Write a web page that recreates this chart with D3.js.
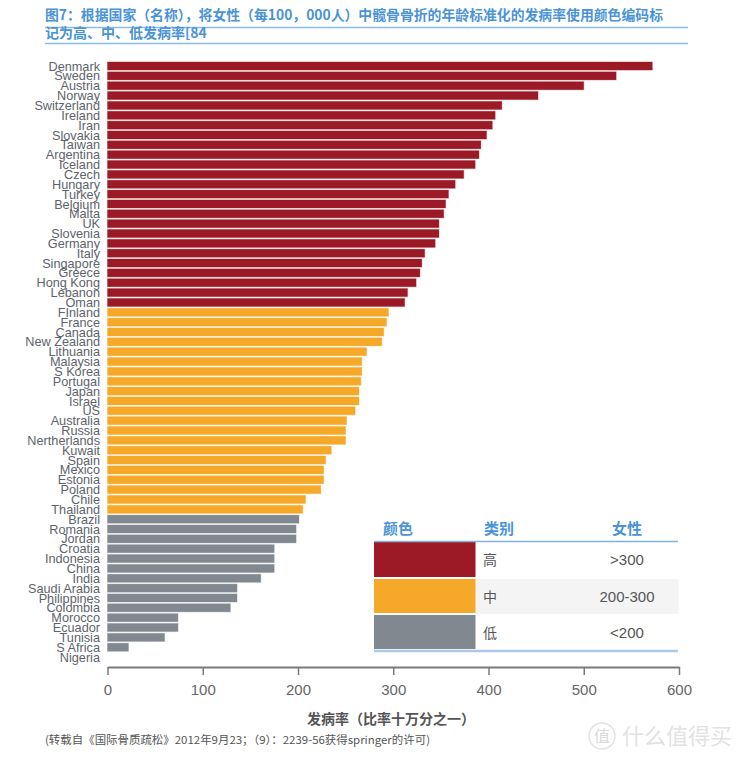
<!DOCTYPE html>
<html>
<head>
<meta charset="utf-8">
<script src="https://cdn.jsdelivr.net/npm/d3@7"></script>
<style>
  html, body { margin: 0; padding: 0; background: #fff; }
  svg { display: block; }
</style>
</head>
<body>
<svg id="chart" width="747" height="763"></svg>
<script>
// ---------------- DATA ----------------
const countries = ["Denmark","Sweden","Austria","Norway","Switzerland","Ireland","Iran","Slovakia","Taiwan","Argentina","Iceland","Czech","Hungary","Turkey","Belgium","Malta","UK","Slovenia","Germany","Italy","Singapore","Greece","Hong Kong","Lebanon","Oman",
  "FInland","France","Canada","New Zealand","Lithuania","Malaysia","S Korea","Portugal","Japan","Israel","US","Australia","Russia","Nertherlands","Kuwait","Spain","Mexico","Estonia","Poland","Chile","Thailand",
  "Brazil","Romania","Jordan","Croatia","Indonesia","China","India","Saudi Arabia","Philippines","Colombia","Morocco","Ecuador","Tunisia","S Africa","Nigeria"];
const rates = [572,534,500,452,414,407,404,398,392,390,386,374,365,358,355,353,348,348,344,333,330,328,324,315,312,
  295,293,290,288,272,267,267,266,264,264,260,251,250,250,235,229,227,227,224,208,205,
  201,198,198,175,175,175,161,136,136,129,74,74,60,22,0];
const groups = [].concat(Array(25).fill("high"), Array(21).fill("mid"), Array(15).fill("low"));
const groupKeys = ["high","mid","low"];
const groupColors = ["#9c1a25","#f6a828","#82888f"];
const legendHeaders = ["颜色","类别","女性"];
const legendCats = ["高","中","低"];
const legendRanges = [">300","200-300","<200"];
const xTicks = [0,100,200,300,400,500,600];
const titleLines = ["图7：根据国家（名称），将女性（每100，000人）中髋骨骨折的年龄标准化的发病率使用颜色编码标","记为高、中、低发病率[84"];
const xAxisTitle = "发病率（比率十万分之一）";
const footnote = "(转载自《国际骨质疏松》2012年9月23；（9）：2239-56获得springer的许可)";

// ---------------- CHART ----------------
const svg = d3.select("#chart");
const cjk = "'Noto Sans CJK SC','Noto Sans',sans-serif";
const latin = "'Liberation Sans',Arial,sans-serif";

// Title
svg.append("line").attr("x1",45).attr("x2",688).attr("y1",27.5).attr("y2",27.5)
  .attr("stroke","#8cbbe4").attr("stroke-width",1.5);
svg.append("line").attr("x1",45).attr("x2",688).attr("y1",43.5).attr("y2",43.5)
  .attr("stroke","#8cbbe4").attr("stroke-width",1.5);
svg.selectAll("text.title").data(titleLines).join("text")
  .attr("class","title")
  .attr("x",45).attr("y",(d,i)=>20+i*18)
  .attr("font-family",cjk).attr("font-weight","bold").attr("font-size",14)
  .attr("fill","#4a93d6")
  .each(function(d,i){ if(i===0){ d3.select(this).attr("textLength",618).attr("lengthAdjust","spacingAndGlyphs"); } })
  .text(d=>d);

const x = d3.scaleLinear().domain([0,600]).range([107.5,679]);
const y = d3.scaleBand().domain(countries).range([61.1,662]).paddingInner(0.18).paddingOuter(0.09);
const color = d3.scaleOrdinal().domain(groupKeys).range(groupColors);

const data = countries.map((c,i)=>({c, v:rates[i], g:groups[i]}));

// Bars
svg.append("g").selectAll("rect").data(data).join("rect")
  .attr("x",x(0)).attr("y",d=>y(d.c))
  .attr("width",d=>x(d.v)-x(0)).attr("height",y.bandwidth())
  .attr("fill",d=>color(d.g))
  .attr("stroke",d=>color(d.g)).attr("stroke-opacity",0.35).attr("stroke-width",1);

// Category labels
svg.append("g").selectAll("text").data(data).join("text")
  .attr("x",100).attr("y",d=>y(d.c)+y.bandwidth()/2)
  .attr("dy","0.36em").attr("text-anchor","end")
  .attr("font-family",latin).attr("font-size",12.7).attr("fill","#5d636b")
  .text(d=>d.c);

// X axis
const axis = svg.append("g").attr("transform","translate(0,667)")
  .call(d3.axisBottom(x).tickValues(xTicks).tickSize(8).tickPadding(9).tickSizeOuter(0));
axis.select(".domain").attr("stroke","#7a7a7a").attr("stroke-width",2);
axis.selectAll(".tick line").attr("stroke","#7a7a7a").attr("stroke-width",1.5);
axis.selectAll(".tick text").attr("font-family",latin).attr("font-size",15).attr("fill","#666");

svg.append("text").attr("x",391).attr("y",724).attr("text-anchor","middle")
  .attr("font-family",cjk).attr("font-weight","bold").attr("font-size",14).attr("fill","#555")
  .text(xAxisTitle);

svg.append("text").attr("x",45).attr("y",744)
  .attr("font-family",cjk).attr("font-size",11).attr("fill","#555")
  .attr("textLength",385).attr("lengthAdjust","spacingAndGlyphs")
  .text(footnote);

// Legend table
const lg = svg.append("g");
const colX = [383, 484, 627];
lg.selectAll("text.hdr").data(legendHeaders).join("text")
  .attr("class","hdr")
  .attr("x",(d,i)=>colX[i]).attr("y",534)
  .attr("text-anchor",(d,i)=>i===2?"middle":"start")
  .attr("font-family",cjk).attr("font-weight","bold").attr("font-size",15).attr("fill","#4a93d6")
  .text(d=>d);
const rowY = [542, 579, 615];
const rowH = [36, 35, 35];
// middle row background
lg.append("rect").attr("x",475.5).attr("y",rowY[1]).attr("width",203).attr("height",rowH[1]).attr("fill","#f4f4f4");
lg.selectAll("rect.sw").data(groupKeys).join("rect")
  .attr("class","sw")
  .attr("x",374).attr("y",(d,i)=>rowY[i]).attr("width",101.5).attr("height",(d,i)=>rowH[i]-1)
  .attr("fill",d=>color(d));
lg.selectAll("text.cat").data(legendCats).join("text")
  .attr("class","cat")
  .attr("x",483).attr("y",(d,i)=>rowY[i]+rowH[i]/2).attr("dy","0.36em")
  .attr("font-family",cjk).attr("font-size",14).attr("fill","#555")
  .text(d=>d);
lg.selectAll("text.rng").data(legendRanges).join("text")
  .attr("class","rng")
  .attr("x",627).attr("y",(d,i)=>rowY[i]+rowH[i]/2).attr("dy","0.36em").attr("text-anchor","middle")
  .attr("font-family",latin).attr("font-size",15).attr("fill","#555")
  .text(d=>d);
lg.append("line").attr("x1",374).attr("x2",678).attr("y1",541.5).attr("y2",541.5)
  .attr("stroke","#82b3de").attr("stroke-width",1.5);
lg.append("line").attr("x1",374).attr("x2",678).attr("y1",651).attr("y2",651)
  .attr("stroke","#a9cbe8").attr("stroke-width",2.5);

// Watermark
const wm = svg.append("g").attr("opacity",0.55);
wm.append("circle").attr("cx",602).attr("cy",736).attr("r",13).attr("fill","none").attr("stroke","#ccc").attr("stroke-width",1.5);
wm.append("text").attr("x",602).attr("y",736).attr("dy","0.36em").attr("text-anchor","middle")
  .attr("font-family",cjk).attr("font-size",16).attr("fill","#bbb").text("值");
wm.append("text").attr("x",622).attr("y",736).attr("dy","0.36em")
  .attr("font-family",cjk).attr("font-size",22).attr("fill","#ccc").text("什么值得买");
</script>
</body>
</html>
